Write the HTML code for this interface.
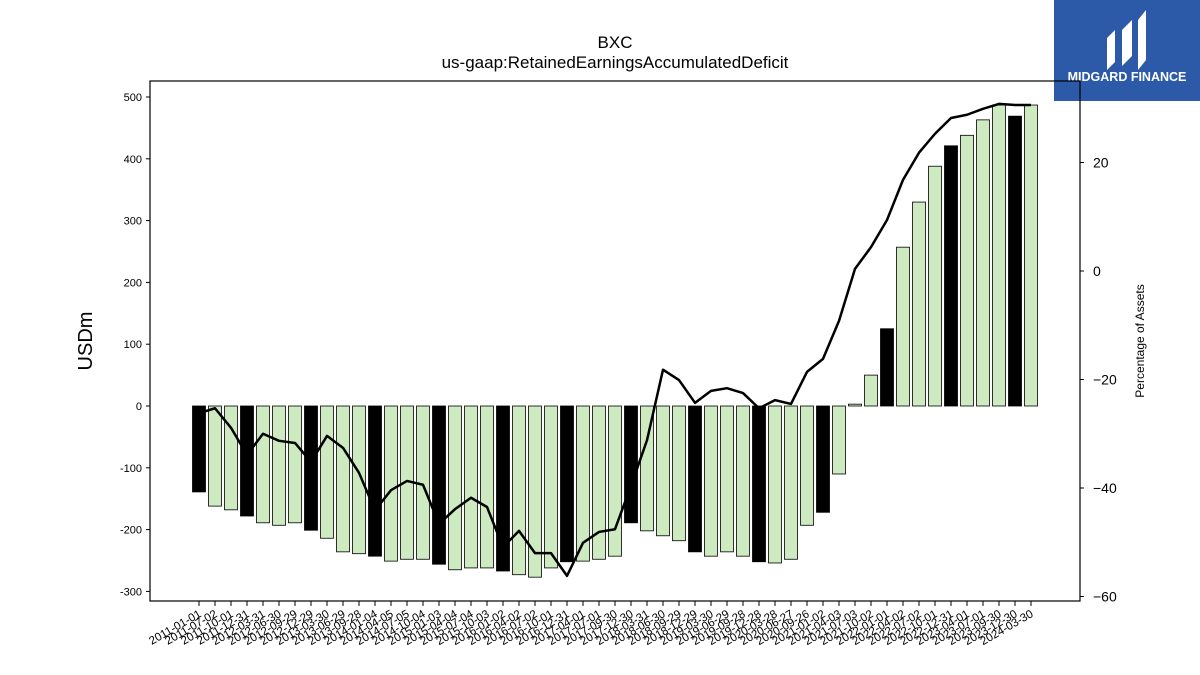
<!DOCTYPE html>
<html><head><meta charset="utf-8"><style>
body{margin:0;background:#fff}
svg{display:block;font-family:"Liberation Sans","DejaVu Sans",sans-serif}
</style></head><body>
<svg id="c" width="1200" height="675" viewBox="0 0 1200 675">
<text x="615" y="48" text-anchor="middle" font-size="17">BXC</text>
<text x="615" y="68" text-anchor="middle" font-size="17">us-gaap:RetainedEarningsAccumulatedDeficit</text>
<g>
<rect x="1054" y="0" width="146" height="101" fill="#2c5aa8"/>
<path d="M1107 70 L1107 38 L1115 30 L1115 62 Z M1122 66 L1122 30 L1132 20 L1132 56 Z M1138 70 L1138 20 L1146 10 L1146 60 Z" fill="#fff"/>
<text x="1127" y="81" text-anchor="middle" font-size="12.5" font-weight="bold" fill="#fff">MIDGARD FINANCE</text>
</g>
<g id="bars"></g><g id="line"></g><g id="axes"></g>
<text transform="translate(92,341) rotate(-90)" text-anchor="middle" font-size="20">USDm</text>
<text transform="translate(1144,341) rotate(-90)" text-anchor="middle" font-size="12">Percentage of Assets</text>
</svg>
<script>
const dates=["2011-01-01","2011-07-02","2011-10-01","2011-12-31","2012-03-31","2012-06-30","2012-09-29","2012-12-29","2013-03-30","2013-06-29","2013-09-28","2014-01-04","2014-04-05","2014-07-05","2014-10-04","2015-01-03","2015-04-04","2015-07-04","2015-10-03","2016-01-02","2016-04-02","2016-07-02","2016-10-01","2016-12-31","2017-04-01","2017-07-01","2017-09-30","2017-12-30","2018-03-31","2018-06-30","2018-09-29","2018-12-29","2019-03-30","2019-06-29","2019-09-28","2019-12-28","2020-03-28","2020-06-27","2020-09-26","2021-01-02","2021-04-03","2021-07-03","2021-10-02","2022-01-01","2022-04-02","2022-07-02","2022-10-01","2022-12-31","2023-04-01","2023-07-01","2023-09-30","2023-12-30","2024-03-30"];
const values=[-139,-162,-168,-178,-189,-193,-189,-201,-214,-236,-239,-243,-251,-248,-248,-256,-265,-262,-262,-267,-273,-277,-262,-252,-251,-248,-243,-189,-202,-210,-218,-236,-243,-236,-243,-252,-254,-248,-193,-172,-110,3,50,125,257,330,388,421,438,463,487,469,487];
const pct=[-26.2,-25.3,-28.9,-33.9,-30.0,-31.3,-31.7,-35.2,-30.4,-32.6,-37.2,-44.1,-40.4,-38.7,-39.4,-46.6,-43.9,-41.8,-43.5,-50.9,-47.9,-52.0,-52.0,-56.2,-50.1,-48.1,-47.6,-39.6,-31.2,-18.2,-20.1,-24.3,-22.1,-21.6,-22.5,-25.3,-23.8,-24.5,-18.6,-16.2,-9.2,0.4,4.4,9.4,16.8,21.8,25.3,28.2,28.8,29.9,30.8,30.6,30.6];
const annual=[0,3,7,11,15,19,23,27,31,35,39,43,47,51];
const leftTicks=[-300,-200,-100,0,100,200,300,400,500];
const rightTicks=[-60,-40,-20,0,20];
const NS="http://www.w3.org/2000/svg";
const L=150,R=1080,T=81,B=601;
const x=i=>199+i*16;
const y=v=>406-v*0.618;
const y2=p=>271-p*5.425;
function mk(t,a,p){const e=document.createElementNS(NS,t);for(const k in a)e.setAttribute(k,a[k]);p.appendChild(e);return e;}
const gb=document.getElementById('bars');
values.forEach((v,i)=>{
 const r=mk('rect',{x:x(i)-6.5,y:Math.min(y(v),y(0)),width:13,height:Math.abs(y(v)-y(0)),fill:annual.includes(i)?'#000':'#cdeac0',stroke:'#000','stroke-width':0.8},gb);
 
 
});
const gl=document.getElementById('line');
const pl=mk('polyline',{points:pct.map((p,i)=>x(i)+','+y2(p)).join(' '),fill:'none',stroke:'#000','stroke-width':2.5,'stroke-linejoin':'round'},gl);


const ga=document.getElementById('axes');
const fr=mk('rect',{x:L,y:T,width:R-L,height:B-T,fill:'none',stroke:'#000','stroke-width':1.2},ga);


leftTicks.forEach(v=>{
 mk('line',{x1:L-4,x2:L,y1:y(v),y2:y(v),stroke:'#000'},ga);
 const t=mk('text',{x:L-8,y:y(v)+4,'text-anchor':'end','font-size':11},ga);t.textContent=v;
 
 
});
rightTicks.forEach(v=>{
 mk('line',{x1:R,x2:R+4,y1:y2(v),y2:y2(v),stroke:'#000'},ga);
 const t=mk('text',{x:R+13,y:y2(v)+5,'font-size':14},ga);t.textContent=(v<0?'\u2212'+(-v):v);
 
 
});
dates.forEach((d,i)=>{
 mk('line',{x1:x(i),x2:x(i),y1:B,y2:B+5,stroke:'#000'},ga);
 const t=mk('text',{transform:`translate(${x(i)+3},${B+15}) rotate(-30)`,'text-anchor':'end','font-size':11.5},ga);t.textContent=d;
 
 
});
</script>
</body></html>
